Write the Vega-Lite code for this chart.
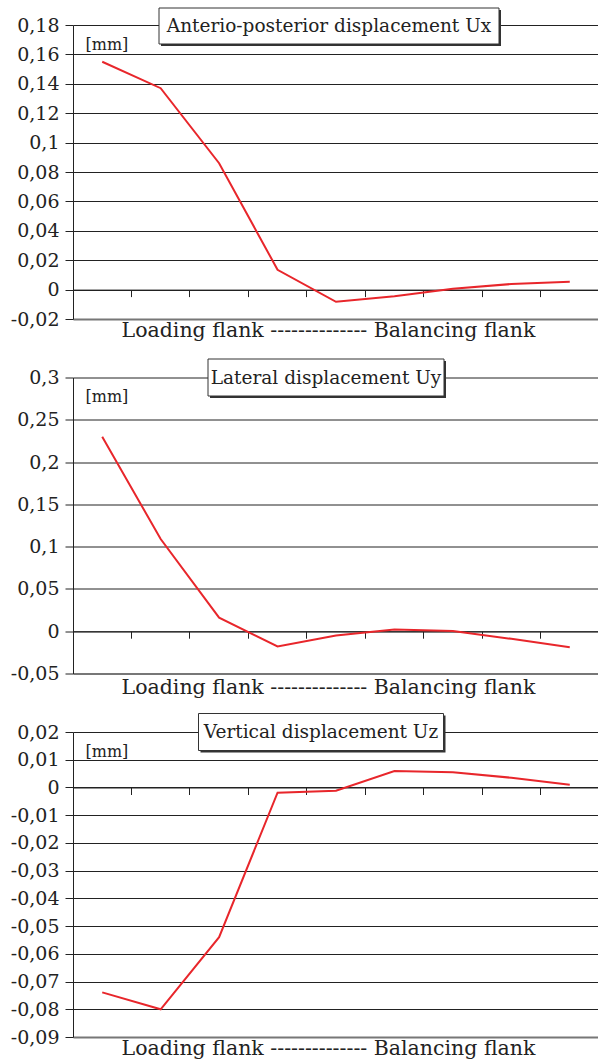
{
  "$schema": "https://vega.github.io/schema/vega-lite/v6.json",
  "padding": {"left": 10, "top": 7, "right": 0, "bottom": 0},
  "background": "white",
  "spacing": 58.5,
  "bounds": "flush",
  "config": {
    "view": {"stroke": null},
    "font": "DejaVu Serif",
    "axis": {
      "labelFont": "DejaVu Serif",
      "titleFont": "DejaVu Serif",
      "labelColor": "#222",
      "titleColor": "#222",
      "titleFontWeight": "normal",
      "domainColor": "#222",
      "tickColor": "#222",
      "gridColor": "#222",
      "gridOpacity": 1,
      "labelOverlap": false,
      "tickCount": 30
    }
  },
  "vconcat": [
    {
      "width": 526,
      "height": 294,
      "layer": [
        {
          "data": {"values": [
            {"pos": 1, "Ux": 0.155}, {"pos": 2, "Ux": 0.137}, {"pos": 3, "Ux": 0.086},
            {"pos": 4, "Ux": 0.0135}, {"pos": 5, "Ux": -0.0083}, {"pos": 6, "Ux": -0.0045},
            {"pos": 7, "Ux": 0.0005}, {"pos": 8, "Ux": 0.0038}, {"pos": 9, "Ux": 0.0054}
          ]},
          "mark": {"type": "line", "color": "#e8262b", "strokeWidth": 2},
          "encoding": {
            "x": {"field": "pos", "type": "ordinal", "scale": {"paddingInner": 0, "paddingOuter": 0},
              "axis": {"title": "Loading flank  --------------  Balancing flank", "labels": false, "bandPosition": 0,
                "tickSize": 7, "offset": -29.4, "titlePadding": 23.4, "titleFontSize": 20.5, "titleX": 255, "grid": false}},
            "y": {"field": "Ux", "type": "quantitative", "scale": {"domain": [-0.02, 0.18], "nice": false, "zero": false},
              "axis": {"values": [-0.02, 0, 0.02, 0.04, 0.06, 0.08, 0.1, 0.12, 0.14, 0.16, 0.18],
                "labelExpr": "replace(toString(datum.value), '.', ',')", "labelFontSize": 19, "labelPadding": 6, "tickSize": 8,
                "grid": true, "gridColor": {"condition": {"test": "datum.value == -0.02", "value": "#777"}, "value": "#222"},
                "gridWidth": {"condition": {"test": "datum.value == -0.02", "value": 2}, "value": 1},
                "title": "[mm]", "titleAngle": 0, "titleX": 12, "titleY": 11, "titleAlign": "left", "titleBaseline": "top", "titleFontSize": 16}}
          }
        },
        {
          "data": {"values": [{"pos": 5, "Ux": 0.18, "label": "Anterio-posterior displacement Ux"}]},
          "mark": {"type": "rect", "width": 340, "height": 36, "fill": "#333", "xOffset": -5, "yOffset": 3},
          "encoding": {"x": {"field": "pos", "type": "ordinal"}, "y": {"field": "Ux", "type": "quantitative"}}
        },
        {
          "data": {"values": [{"pos": 5, "Ux": 0.18, "label": "Anterio-posterior displacement Ux"}]},
          "mark": {"type": "rect", "width": 340, "height": 36, "fill": "white", "stroke": "#333", "strokeWidth": 1, "xOffset": -7, "yOffset": 1},
          "encoding": {"x": {"field": "pos", "type": "ordinal"}, "y": {"field": "Ux", "type": "quantitative"}}
        },
        {
          "data": {"values": [{"pos": 5, "Ux": 0.18, "label": "Anterio-posterior displacement Ux"}]},
          "mark": {"type": "text", "fontSize": 18.5, "color": "#222", "xOffset": -7, "yOffset": 1, "baseline": "middle"},
          "encoding": {"x": {"field": "pos", "type": "ordinal"}, "y": {"field": "Ux", "type": "quantitative"}, "text": {"field": "label"}}
        }
      ]
    },
    {
      "width": 526,
      "height": 296,
      "layer": [
        {
          "data": {"values": [
            {"pos": 1, "Uy": 0.23}, {"pos": 2, "Uy": 0.109}, {"pos": 3, "Uy": 0.016},
            {"pos": 4, "Uy": -0.018}, {"pos": 5, "Uy": -0.005}, {"pos": 6, "Uy": 0.002},
            {"pos": 7, "Uy": 0.0003}, {"pos": 8, "Uy": -0.009}, {"pos": 9, "Uy": -0.019}
          ]},
          "mark": {"type": "line", "color": "#e8262b", "strokeWidth": 2},
          "encoding": {
            "x": {"field": "pos", "type": "ordinal", "scale": {"paddingInner": 0, "paddingOuter": 0},
              "axis": {"title": "Loading flank  --------------  Balancing flank", "labels": false, "bandPosition": 0,
                "tickSize": 7, "offset": -42.3, "titlePadding": 39, "titleFontSize": 20.5, "titleX": 255, "grid": false}},
            "y": {"field": "Uy", "type": "quantitative", "scale": {"domain": [-0.05, 0.3], "nice": false, "zero": false},
              "axis": {"values": [-0.05, 0, 0.05, 0.1, 0.15, 0.2, 0.25, 0.3],
                "labelExpr": "replace(toString(datum.value), '.', ',')", "labelFontSize": 19, "labelPadding": 6, "tickSize": 8,
                "grid": true, "gridColor": {"condition": {"test": "datum.value == -0.05", "value": "#777"}, "value": "#222"},
                "gridWidth": {"condition": {"test": "datum.value == -0.05", "value": 2}, "value": 1},
                "title": "[mm]", "titleAngle": 0, "titleX": 12, "titleY": 11, "titleAlign": "left", "titleBaseline": "top", "titleFontSize": 16}}
          }
        },
        {
          "data": {"values": [{"pos": 5, "Uy": 0.3, "label": "Lateral displacement Uy"}]},
          "mark": {"type": "rect", "width": 236, "height": 37, "fill": "#333", "xOffset": -8, "yOffset": 2},
          "encoding": {"x": {"field": "pos", "type": "ordinal"}, "y": {"field": "Uy", "type": "quantitative"}}
        },
        {
          "data": {"values": [{"pos": 5, "Uy": 0.3, "label": "Lateral displacement Uy"}]},
          "mark": {"type": "rect", "width": 236, "height": 37, "fill": "white", "stroke": "#333", "strokeWidth": 1, "xOffset": -10, "yOffset": 0},
          "encoding": {"x": {"field": "pos", "type": "ordinal"}, "y": {"field": "Uy", "type": "quantitative"}}
        },
        {
          "data": {"values": [{"pos": 5, "Uy": 0.3, "label": "Lateral displacement Uy"}]},
          "mark": {"type": "text", "fontSize": 18.5, "color": "#222", "xOffset": -10, "yOffset": 0, "baseline": "middle"},
          "encoding": {"x": {"field": "pos", "type": "ordinal"}, "y": {"field": "Uy", "type": "quantitative"}, "text": {"field": "label"}}
        }
      ]
    },
    {
      "width": 526,
      "height": 305,
      "layer": [
        {
          "data": {"values": [
            {"pos": 1, "Uz": -0.0739}, {"pos": 2, "Uz": -0.08}, {"pos": 3, "Uz": -0.054},
            {"pos": 4, "Uz": -0.0019}, {"pos": 5, "Uz": -0.0012}, {"pos": 6, "Uz": 0.0059},
            {"pos": 7, "Uz": 0.0055}, {"pos": 8, "Uz": 0.0035}, {"pos": 9, "Uz": 0.001}
          ]},
          "mark": {"type": "line", "color": "#e8262b", "strokeWidth": 2},
          "encoding": {
            "x": {"field": "pos", "type": "ordinal", "scale": {"paddingInner": 0, "paddingOuter": 0},
              "axis": {"title": "Loading flank  --------------  Balancing flank", "labels": false, "bandPosition": 0,
                "tickSize": 7, "offset": -249.5, "titlePadding": 243.5, "titleFontSize": 20.5, "titleX": 255, "grid": false}},
            "y": {"field": "Uz", "type": "quantitative", "scale": {"domain": [-0.09, 0.02], "nice": false, "zero": false},
              "axis": {"values": [-0.09, -0.08, -0.07, -0.06, -0.05, -0.04, -0.03, -0.02, -0.01, 0, 0.01, 0.02],
                "labelExpr": "replace(toString(datum.value), '.', ',')", "labelFontSize": 19, "labelPadding": 6, "tickSize": 8,
                "grid": true, "gridColor": {"condition": {"test": "datum.value == -0.09", "value": "#777"}, "value": "#222"},
                "gridWidth": {"condition": {"test": "datum.value == -0.09", "value": 2}, "value": 1},
                "title": "[mm]", "titleAngle": 0, "titleX": 12, "titleY": 11, "titleAlign": "left", "titleBaseline": "top", "titleFontSize": 16}}
          }
        },
        {
          "data": {"values": [{"pos": 5, "Uz": 0.02, "label": "Vertical displacement Uz"}]},
          "mark": {"type": "rect", "width": 245, "height": 37, "fill": "#333", "xOffset": -13, "yOffset": 2},
          "encoding": {"x": {"field": "pos", "type": "ordinal"}, "y": {"field": "Uz", "type": "quantitative"}}
        },
        {
          "data": {"values": [{"pos": 5, "Uz": 0.02, "label": "Vertical displacement Uz"}]},
          "mark": {"type": "rect", "width": 245, "height": 37, "fill": "white", "stroke": "#333", "strokeWidth": 1, "xOffset": -15, "yOffset": 0},
          "encoding": {"x": {"field": "pos", "type": "ordinal"}, "y": {"field": "Uz", "type": "quantitative"}}
        },
        {
          "data": {"values": [{"pos": 5, "Uz": 0.02, "label": "Vertical displacement Uz"}]},
          "mark": {"type": "text", "fontSize": 18.5, "color": "#222", "xOffset": -15, "yOffset": 0, "baseline": "middle"},
          "encoding": {"x": {"field": "pos", "type": "ordinal"}, "y": {"field": "Uz", "type": "quantitative"}, "text": {"field": "label"}}
        }
      ]
    }
  ]
}
